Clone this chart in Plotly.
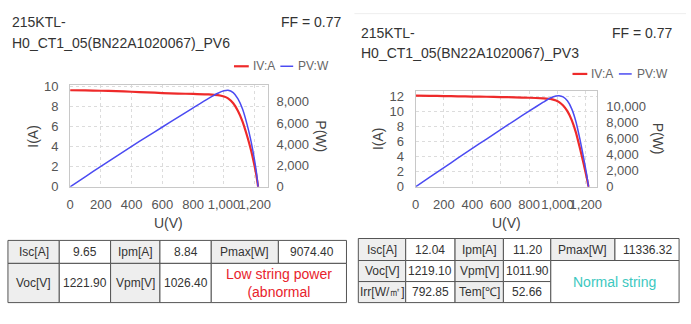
import plotly.graph_objects as go

W, H = 691, 324

# ---------------- data ----------------
left_title = ["215KTL-", "H0_CT1_05(BN22A1020067)_PV6"]
right_title = ["215KTL-", "H0_CT1_05(BN22A1020067)_PV3"]
ff_text = "FF = 0.77"

left_v = [0, 100, 200, 300, 400, 500, 600, 700, 800, 900, 960, 1000, 1026.4, 1060, 1090, 1120, 1150, 1175, 1195, 1210, 1221.9]
left_i = [9.65, 9.63, 9.60, 9.56, 9.50, 9.44, 9.37, 9.32, 9.28, 9.24, 9.16, 9.02, 8.84, 8.35, 7.60, 6.55, 5.10, 3.70, 2.35, 1.20, 0]
left_p = [0, 963, 1920, 2868, 3800, 4720, 5622, 6524, 7424, 8316, 8794, 9020, 9074, 8851, 8284, 7336, 5865, 4348, 2808, 1452, 0]

right_v = [0, 100, 200, 300, 400, 500, 600, 700, 800, 900, 950, 990, 1011.9, 1040, 1070, 1100, 1130, 1160, 1185, 1205, 1219.1]
right_i = [12.04, 12.02, 11.99, 11.96, 11.93, 11.90, 11.86, 11.82, 11.77, 11.70, 11.63, 11.42, 11.20, 10.75, 10.00, 8.85, 7.20, 5.00, 3.00, 1.35, 0]
right_p = [0, 1202, 2398, 3588, 4772, 5950, 7116, 8274, 9416, 10530, 11049, 11306, 11336, 11180, 10700, 9735, 8136, 5800, 3555, 1627, 0]

left_isc, left_voc, left_pmax = 9.65, 1221.9, 9074.40
right_isc, right_voc, right_pmax = 12.04, 1219.1, 11336.32

left_table = [
    ["Isc[A]", "9.65", "Ipm[A]", "8.84", "Pmax[W]", "9074.40"],
    ["Voc[V]", "1221.90", "Vpm[V]", "1026.40", None, None],
]
left_status = "Low string power<br>(abnormal"
right_table = [
    ["Isc[A]", "12.04", "Ipm[A]", "11.20", "Pmax[W]", "11336.32"],
    ["Voc[V]", "1219.10", "Vpm[V]", "1011.90", None, None],
    ["Irr[W/㎡]", "792.85", "Tem[℃]", "52.66", None, None],
]
right_status = "Normal string"

# ---------------- styles ----------------
FONT = "Liberation Sans, Arial, sans-serif"
RED = "#ee2a2a"
BLUE = "#4b4bf2"
GRID = "#dcdcdc"
FRAME = "#c8c8c8"
TICK = "#555555"
TXT = "#333333"


def px(x):
    return x / W


def py(y):
    return 1 - y / H


fig = go.Figure()

fig.add_trace(go.Scatter(x=left_v, y=left_p, mode="lines", line=dict(color=BLUE, width=1.5, shape="spline", smoothing=0.6),
                         xaxis="x", yaxis="y2", showlegend=False, name="PV:W"))
fig.add_trace(go.Scatter(x=left_v, y=left_i, mode="lines", line=dict(color=RED, width=2.2, shape="spline", smoothing=0.6),
                         xaxis="x", yaxis="y", showlegend=False, name="IV:A"))
fig.add_trace(go.Scatter(x=right_v, y=right_p, mode="lines", line=dict(color=BLUE, width=1.5, shape="spline", smoothing=0.6),
                         xaxis="x2", yaxis="y4", showlegend=False, name="PV:W"))
fig.add_trace(go.Scatter(x=right_v, y=right_i, mode="lines", line=dict(color=RED, width=2.2, shape="spline", smoothing=0.6),
                         xaxis="x2", yaxis="y3", showlegend=False, name="IV:A"))

tickfont = dict(family=FONT, size=13, color=TICK)
xcommon = dict(showgrid=True, gridcolor=GRID, griddash="dot", gridwidth=1, dtick=200, tick0=0,
               showline=True, linecolor=FRAME, linewidth=1, mirror=True, zeroline=False, tickangle=0,
               ticks="", tickfont=tickfont, tickformat=",d", ticklabelstandoff=6, fixedrange=True)
ycommon = dict(showgrid=True, gridcolor=GRID, griddash="dot", gridwidth=1, dtick=2, tick0=0,
               showline=True, linecolor=FRAME, linewidth=1, mirror=True, zeroline=False,
               ticks="", tickfont=tickfont, ticklabelstandoff=8, fixedrange=True)
y2common = dict(showgrid=False, showline=False, zeroline=False, dtick=2000, tick0=0, side="right",
                ticks="", tickfont=tickfont, tickformat=",d", ticklabelstandoff=8, fixedrange=True)

L_DOM_X = [px(67), px(267)]
L_DOM_Y = [py(189), py(83)]
R_DOM_X = [px(417), px(601)]
R_DOM_Y = [py(189), py(89)]

fig.update_layout(
    width=W, height=H, autosize=False,
    margin=dict(l=0, r=0, t=0, b=0, pad=0),
    paper_bgcolor="white", plot_bgcolor="white",
    font=dict(family=FONT, color=TXT),
    showlegend=False,
    xaxis=dict(domain=L_DOM_X, range=[0, left_voc * 1.05], anchor="y", **xcommon),
    yaxis=dict(domain=L_DOM_Y, range=[0, left_isc * 1.05], anchor="x", **ycommon),
    yaxis2=dict(overlaying="y", anchor="x", range=[0, left_pmax * 1.05], **y2common),
    xaxis2=dict(domain=R_DOM_X, range=[0, right_voc * 1.05], anchor="y3", **xcommon),
    yaxis3=dict(domain=R_DOM_Y, range=[0, right_isc * 1.05], anchor="x2", **ycommon),
    yaxis4=dict(overlaying="y3", anchor="x2", range=[0, right_pmax * 1.05], **y2common),
)

shapes = []
ann = []


def text(x, y, s, size=14, color=TXT, xanchor="left", angle=0):
    ann.append(dict(x=px(x), y=py(y), xref="paper", yref="paper", text=s, showarrow=False,
                    xanchor=xanchor, yanchor="middle", textangle=angle,
                    font=dict(family=FONT, size=size, color=color)))


# titles
text(6, 17, left_title[0]); text(6, 39, left_title[1])
text(344, 17, ff_text, xanchor="right")
text(360, 28, right_title[0]); text(360, 49, right_title[1])
text(680, 28, ff_text, xanchor="right")

# separator line at top of right panel
shapes.append(dict(type="line", xref="paper", yref="paper", x0=px(355), x1=px(691), y0=py(8), y1=py(8),
                   line=dict(color="#eeeeee", width=1)))

# legends
def legend(x0, y):
    shapes.append(dict(type="line", xref="paper", yref="paper", x0=px(x0), x1=px(x0 + 15), y0=py(y), y1=py(y),
                       line=dict(color=RED, width=2.2)))
    text(x0 + 17, y, "IV:A", size=12, color="#666666")
    shapes.append(dict(type="line", xref="paper", yref="paper", x0=px(x0 + 47), x1=px(x0 + 60), y0=py(y), y1=py(y),
                       line=dict(color=BLUE, width=1.5)))
    text(x0 + 63, y, "PV:W", size=12, color="#666666")


legend(233, 63)
legend(576, 71)

# axis titles
text(30, 136, "I(A)", size=14, color="#444444", xanchor="center", angle=-90)
text(321, 136, "P(W)", size=14, color="#444444", xanchor="center", angle=90)
text(167, 227, "U(V)", size=14, color="#444444", xanchor="center")
text(379, 139, "I(A)", size=14, color="#444444", xanchor="center", angle=-90)
text(663, 139, "P(W)", size=14, color="#444444", xanchor="center", angle=90)
text(509, 227, "U(V)", size=14, color="#444444", xanchor="center")

# tables
HEAD_BG = "#eeeeee"
BORDER = "#555555"


def table(rows, cols, rowsy, status, status_color, merge_rows):
    for r, row in enumerate(rows):
        for c, val in enumerate(row):
            if val is None:
                continue
            x0, x1 = cols[c], cols[c + 1]
            y0, y1 = rowsy[r], rowsy[r + 1]
            fill = HEAD_BG if c % 2 == 0 else "white"
            shapes.append(dict(type="rect", xref="paper", yref="paper", x0=px(x0), x1=px(x1), y0=py(y0), y1=py(y1),
                               fillcolor=fill, line=dict(color=BORDER, width=1), layer="below"))
            text((x0 + x1) / 2, (y0 + y1) / 2, val, size=12, color=TXT, xanchor="center")
    x0, x1 = cols[4], cols[6]
    y0, y1 = rowsy[1], rowsy[1 + merge_rows]
    shapes.append(dict(type="rect", xref="paper", yref="paper", x0=px(x0), x1=px(x1), y0=py(y0), y1=py(y1),
                       fillcolor="white", line=dict(color=BORDER, width=1), layer="below"))
    text((x0 + x1) / 2, (y0 + y1) / 2, status, size=14, color=status_color, xanchor="center")


table(left_table, [4, 56, 108, 158, 210, 278, 347], [245, 269, 310], left_status, "#e8232c", 1)
table(right_table, [359, 407, 457, 506, 554, 619, 684], [243, 266, 288, 310], right_status, "#3cc8c0", 2)

fig.update_layout(shapes=shapes, annotations=ann)

fig.write_html("out.html")
